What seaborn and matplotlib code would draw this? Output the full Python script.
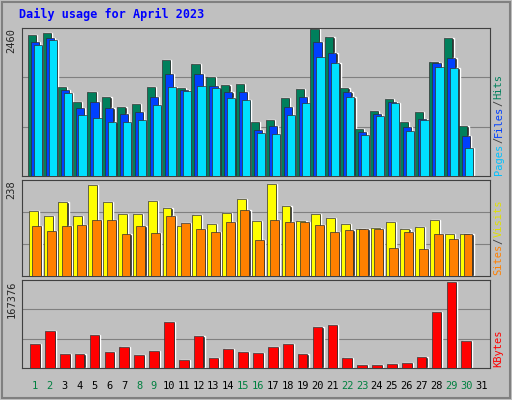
import numpy as np
import pandas as pd
import seaborn as sns
import matplotlib.pyplot as plt

days = list(range(1, 31))
hits = [2343, 2377, 1479, 1230, 1396, 1313, 1147, 1197, 1479, 1928, 1463, 1861, 1645, 1512, 1529,
        897, 931, 1296, 1446, 2443, 2310, 1463, 781, 1080, 1280, 897, 1064, 1895, 2294, 831]
files = [2227, 2294, 1429, 1130, 1230, 1130, 1030, 1064, 1313, 1695, 1429, 1695, 1496, 1396, 1396,
         765, 831, 1147, 1313, 2227, 2044, 1396, 731, 1030, 1230, 814, 947, 1878, 1961, 665]
pages = [2177, 2260, 1379, 1014, 964, 897, 897, 931, 1180, 1479, 1413, 1496, 1463, 1296, 1263,
         715, 698, 1014, 1213, 1978, 1878, 1313, 681, 997, 1213, 748, 931, 1812, 1795, 465]
visits = [161, 149, 183, 149, 226, 183, 154, 154, 186, 169, 124, 151, 129, 156, 191,
          136, 228, 174, 136, 154, 144, 129, 117, 119, 134, 117, 121, 139, 104, 104]
sites = [124, 112, 124, 126, 139, 139, 104, 124, 107, 149, 131, 117, 109, 134, 164,
         89, 139, 134, 134, 126, 109, 114, 117, 117, 69, 109, 67, 104, 92, 104]
kbytes = [44758, 70056, 27244, 27244, 62272, 31136, 40866, 25298, 33082, 87570, 15568, 60326, 19460,
          36974, 31136, 29190, 40866, 44758, 27244, 77840, 81732, 19460, 5838, 5838, 7784, 9730,
          21406, 107030, 163464, 50596]
weekend = [1, 2, 8, 9, 15, 16, 22, 23, 29, 30]

sns.set_style("white")
plt.rcParams['font.family'] = ['DejaVu Sans Mono']
bg = "#C0C0C0"
fig = plt.figure(figsize=(5.12, 4.0), dpi=100, facecolor=bg)
fig.patches.append(plt.Rectangle((0.004, 0.004), 0.992, 0.992, transform=fig.transFigure,
                                 fill=False, edgecolor="#808080", lw=1.5))
fig.text(0.037, 0.963, "Daily usage for April 2023", color="#0000FF", fontsize=8.5,
         fontweight="bold", va="center")

x = np.array(days, dtype=float)
xl = (0.126, 31.6)
L, W = 22 / 512, 468 / 512
FS = 7.5
CHAR_PX = 0.602 * FS * 100 / 72


def panel(bottom, height, ymax, label):
    ax = fig.add_axes([L, bottom, W, height], facecolor=bg)
    ax.set_xlim(*xl)
    ax.set_ylim(0, ymax * 1.0)
    for f in (1 / 3, 2 / 3):
        ax.axhline(ymax * f, color="#808080", lw=0.8, zorder=0)
    ax.set_xticks([])
    ax.set_yticks([])
    for s in ax.spines.values():
        s.set_color("#404040")
    ax.text(-0.012, 1.0, label, transform=ax.transAxes, rotation=90, ha="right",
            va="top", fontsize=FS)
    return ax


def side(ax, parts):
    hpx = ax.get_position().height * 400
    y = 0.01
    for txt, col in parts:
        ax.text(1.008, y, txt, transform=ax.transAxes, rotation=90, color=col,
                fontsize=FS, ha="left", va="bottom")
        y += len(txt) * CHAR_PX / hpx


def bars(ax, off, vals, color, w):
    ax.bar(x + off + 0.08, vals, width=w, color="#202020", zorder=2)
    ax.bar(x + off, vals, width=w, color=color, edgecolor="#303030", lw=0.5, zorder=3)


ax1 = panel(1 - 176 / 400, 148 / 400, 2460, "2460")
bars(ax1, -0.2, hits, "#00805C", 0.55)
bars(ax1, 0.0, files, "#0040FF", 0.55)
bars(ax1, 0.2, pages, "#00E0FF", 0.55)
side(ax1, [("Pages", "#00C0FF"), ("/", "#404040"), ("Files", "#0040FF"),
           ("/", "#404040"), ("Hits", "#00805C")])

ax2 = panel(1 - 276 / 400, 96 / 400, 238, "238")
bars(ax2, -0.12, visits, "#FFFF00", 0.6)
bars(ax2, 0.12, sites, "#FF8000", 0.6)
side(ax2, [("Sites", "#FF8000"), ("/", "#404040"), ("Visits", "#E0E000")])

ax3 = panel(1 - 368 / 400, 88 / 400, 167376, "167376")
ax3.bar(x + 0.08, kbytes, width=0.65, color="#202020", zorder=2)
df = pd.DataFrame({"day": x, "kb": kbytes})
sns.barplot(data=df, x="day", y="kb", native_scale=True, width=0.65, color="#FF0000",
            saturation=1, edgecolor="#303030", linewidth=0.5, ax=ax3, zorder=3)
ax3.set_xlim(*xl)
ax3.set_xlabel("")
ax3.set_ylabel("")
ax3.set_xticks([])
ax3.set_yticks([])
side(ax3, [("KBytes", "#FF0000")])

for d in range(1, 32):
    ax3.text(d, -0.2, str(d), transform=ax3.get_xaxis_transform(), ha="center", va="center",
             fontsize=FS, color="#008040" if d in weekend else "#000000")

fig.savefig("out.png", dpi=100, facecolor=bg)
